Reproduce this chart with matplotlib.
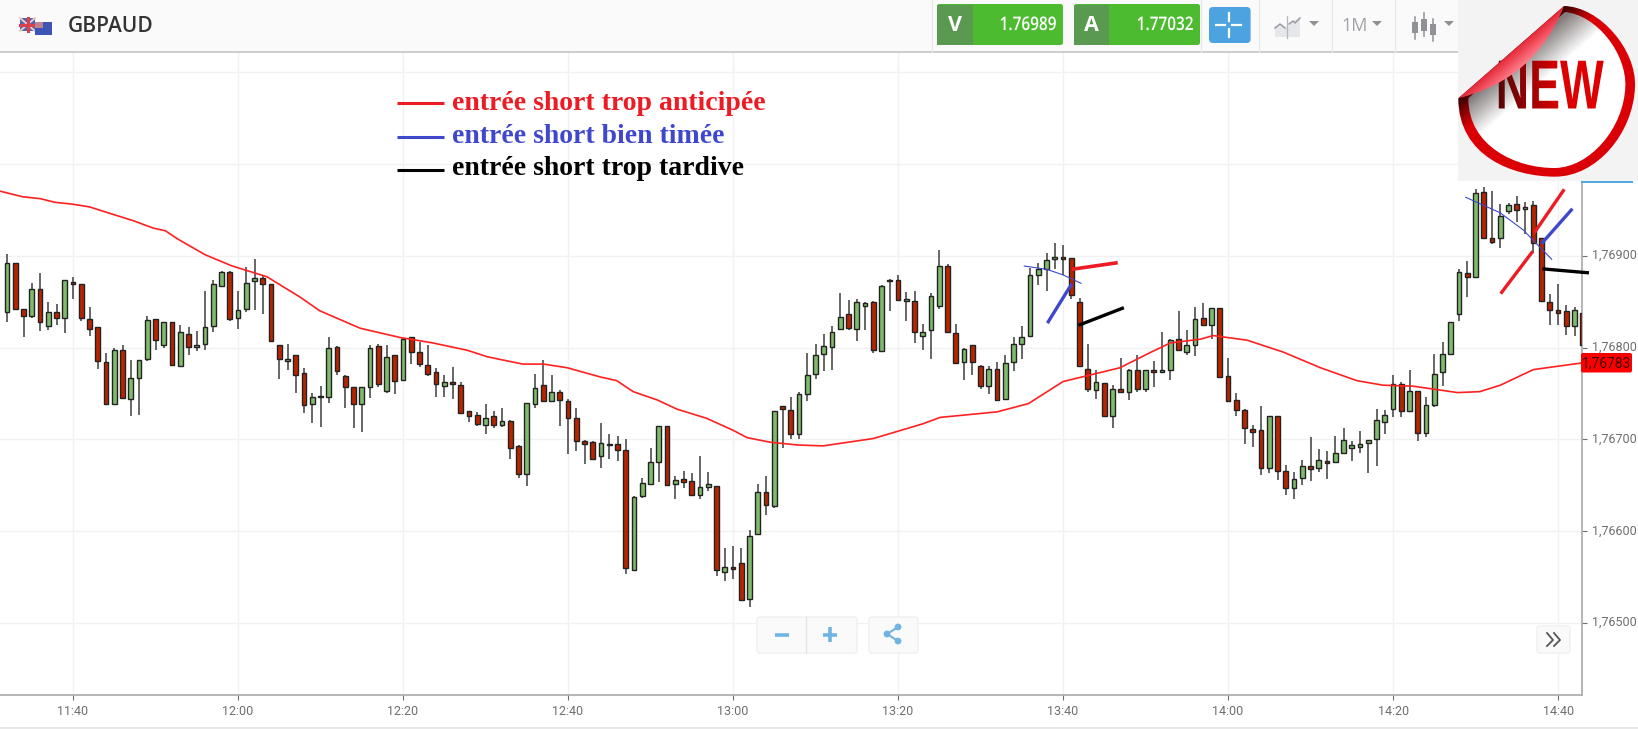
"""GBPAUD 1 minute candles with moving average and hand drawn short entry marks."""
import matplotlib
matplotlib.use("Agg")
import matplotlib.patheffects as pe
import matplotlib.pyplot as plt
import numpy as np
import pandas as pd
from matplotlib.patches import FancyBboxPatch, PathPatch, Polygon, Rectangle, Circle
from matplotlib.path import Path
from matplotlib.transforms import Affine2D, Bbox, ScaledTranslation

W, H = 1638, 729

# prices are in 1e-5 units, first candle is 11:32, one candle per minute
START_MINUTE = 692
opens = [
    176839, 176892, 176842, 176834, 176864, 176823, 176839, 176832, 176871, 176869,
    176831, 176822, 176784, 176739, 176797, 176744, 176767, 176788, 176831, 176803,
    176828, 176780, 176815, 176801, 176804, 176823, 176867, 176882, 176832, 176842,
    176872, 176876, 176869, 176803, 176785, 176792, 176772, 176739, 176746, 176746,
    176801, 176769, 176757, 176739, 176757, 176802, 176753, 176792, 176765, 176811,
    176795, 176781, 176773, 176758, 176763, 176759, 176731, 176727, 176716, 176725,
    176716, 176720, 176693, 176662, 176739, 176759, 176742, 176752, 176742, 176723,
    176698, 176697, 176682, 176694, 176695, 176688, 176558, 176638, 176652, 176675,
    176715, 176652, 176657, 176655, 176640, 176648, 176649, 176556, 176561, 176566,
    176526, 176597, 176643, 176628, 176736, 176732, 176706, 176749, 176771, 176793,
    176801, 176820, 176836, 176820, 176845, 176850, 176796, 176874, 176873, 176851,
    176851, 176813, 176819, 176845, 176889, 176816, 176784, 176803, 176780, 176758,
    176777, 176744, 176784, 176804, 176813, 176879, 176885, 176896, 176899, 176897,
    176849, 176777, 176754, 176761, 176725, 176755, 176752, 176776, 176755, 176776,
    176773, 176776, 176809, 176795, 176803, 176832, 176825, 176843, 176769, 176743,
    176732, 176711, 176710, 176669, 176726, 176666, 176647, 176658, 176671, 176669,
    176677, 176675, 176685, 176691, 176692, 176696, 176700, 176719, 176733, 176760,
    176731, 176753, 176707, 176738, 176773, 176793, 176837, 176881, 176877, 176969,
    176919, 176919, 176948, 176956, 176951, 176955, 176919, 176849, 176841, 176840,
    176823, 176838,
]
highs = [
    176902, 176892, 176842, 176870, 176881, 176849, 176847, 176874, 176877, 176869,
    176844, 176822, 176794, 176799, 176803, 176786, 176786, 176834, 176831, 176828,
    176828, 176825, 176822, 176818, 176862, 176874, 176883, 176883, 176861, 176888,
    176896, 176878, 176869, 176803, 176804, 176792, 176778, 176751, 176758, 176812,
    176802, 176770, 176757, 176757, 176803, 176804, 176803, 176792, 176810, 176811,
    176806, 176803, 176778, 176770, 176779, 176763, 176731, 176730, 176739, 176731,
    176734, 176721, 176694, 176740, 176771, 176786, 176770, 176754, 176744, 176734,
    176699, 176698, 176718, 176706, 176704, 176700, 176638, 176658, 176691, 176715,
    176715, 176660, 176666, 176663, 176682, 176665, 176649, 176582, 176584, 176582,
    176601, 176652, 176660, 176731, 176736, 176746, 176752, 176794, 176804, 176815,
    176823, 176859, 176852, 176853, 176849, 176851, 176868, 176875, 176879, 176860,
    176861, 176826, 176859, 176906, 176891, 176826, 176800, 176803, 176781, 176780,
    176784, 176792, 176811, 176823, 176887, 176892, 176903, 176914, 176911, 176897,
    176854, 176804, 176776, 176761, 176759, 176789, 176777, 176792, 176776, 176785,
    176817, 176809, 176840, 176819, 176844, 176848, 176843, 176843, 176789, 176751,
    176733, 176716, 176736, 176726, 176726, 176672, 176665, 176678, 176703, 176690,
    176687, 176704, 176713, 176698, 176709, 176699, 176733, 176732, 176770, 176763,
    176776, 176753, 176746, 176793, 176806, 176828, 176885, 176894, 176972, 176975,
    176970, 176956, 176957, 176965, 176958, 176959, 176919, 176858, 176869, 176846,
    176844, 176838,
]
lows = [
    176828, 176841, 176811, 176832, 176818, 176819, 176824, 176816, 176853, 176829,
    176813, 176777, 176739, 176739, 176745, 176726, 176727, 176785, 176797, 176799,
    176780, 176780, 176792, 176796, 176797, 176817, 176866, 176829, 176820, 176839,
    176841, 176836, 176806, 176766, 176776, 176750, 176729, 176718, 176714, 176740,
    176770, 176734, 176712, 176708, 176745, 176757, 176751, 176749, 176764, 176782,
    176779, 176769, 176746, 176746, 176744, 176729, 176719, 176715, 176706, 176712,
    176714, 176679, 176658, 176649, 176734, 176741, 176742, 176715, 176684, 176687,
    176673, 176679, 176669, 176679, 176677, 176554, 176558, 176636, 176651, 176654,
    176650, 176635, 176647, 176640, 176635, 176644, 176552, 176546, 176548, 176525,
    176518, 176596, 176618, 176625, 176691, 176701, 176700, 176742, 176766, 176775,
    176776, 176820, 176819, 176807, 176819, 176794, 176796, 176840, 176852, 176829,
    176805, 176797, 176788, 176842, 176817, 176782, 176765, 176770, 176755, 176749,
    176742, 176744, 176775, 176788, 176812, 176868, 176862, 176885, 176879, 176853,
    176780, 176752, 176744, 176725, 176713, 176752, 176743, 176752, 176752, 176757,
    176773, 176765, 176796, 176792, 176791, 176825, 176809, 176768, 176741, 176726,
    176695, 176692, 176661, 176663, 176656, 176640, 176635, 176650, 176655, 176665,
    176657, 176675, 176685, 176677, 176685, 176664, 176671, 176706, 176724, 176724,
    176730, 176698, 176703, 176735, 176758, 176793, 176829, 176855, 176877, 176918,
    176913, 176908, 176945, 176937, 176924, 176903, 176849, 176824, 176824, 176814,
    176813, 176803,
]
closes = [
    176892, 176842, 176834, 176864, 176828, 176839, 176832, 176874, 176869, 176832,
    176820, 176785, 176739, 176797, 176745, 176767, 176786, 176830, 176808, 176828,
    176781, 176817, 176801, 176803, 176822, 176869, 176882, 176831, 176841, 176870,
    176876, 176869, 176807, 176788, 176787, 176770, 176738, 176746, 176747, 176800,
    176775, 176757, 176739, 176757, 176799, 176760, 176790, 176764, 176809, 176795,
    176782, 176771, 176760, 176762, 176760, 176729, 176726, 176717, 176723, 176716,
    176720, 176691, 176662, 176740, 176756, 176742, 176752, 176743, 176723, 176698,
    176695, 176679, 176696, 176695, 176689, 176560, 176637, 176653, 176675, 176715,
    176650, 176656, 176654, 176640, 176648, 176651, 176558, 176561, 176559, 176525,
    176595, 176643, 176629, 176731, 176733, 176706, 176749, 176770, 176792, 176802,
    176817, 176833, 176821, 176850, 176848, 176797, 176867, 176872, 176852, 176853,
    176817, 176817, 176856, 176889, 176817, 176783, 176798, 176784, 176758, 176777,
    176743, 176783, 176804, 176811, 176879, 176885, 176895, 176899, 176896, 176857,
    176780, 176755, 176762, 176725, 176755, 176752, 176776, 176755, 176776, 176773,
    176776, 176808, 176797, 176803, 176831, 176825, 176843, 176768, 176742, 176732,
    176712, 176708, 176669, 176726, 176666, 176647, 176657, 176671, 176668, 176678,
    176674, 176685, 176699, 176694, 176695, 176699, 176721, 176727, 176760, 176731,
    176753, 176707, 176738, 176771, 176793, 176828, 176882, 176877, 176968, 176919,
    176915, 176943, 176955, 176950, 176953, 176914, 176851, 176841, 176838, 176823,
    176841, 176803,
]

# moving average
ma_minutes = [
    691.2, 693.9, 696.0, 697.8, 699.9, 702.0, 704.8, 707.3, 709.7, 711.2, 712.7, 716.0,
    719.2, 723.5, 727.5, 729.9, 734.8, 739.6, 743.6, 747.8, 750.2, 754.5, 757.0, 759.9,
    763.9, 765.9, 767.9, 770.8, 773.2, 776.8, 780.0, 781.7, 784.5, 787.8, 790.9, 797.0,
    803.0, 805.1, 812.0, 815.8, 820.0, 826.9, 830.9, 833.0, 836.6, 838.2, 842.3, 846.7,
    851.2, 855.6, 858.8, 862.4, 867.8, 870.5, 873.0, 877.0, 882.7,
]
ma_values = [
    176970, 176964, 176962, 176958, 176956, 176953, 176945, 176938, 176930, 176927, 176918, 176901,
    176889, 176877, 176855, 176840, 176821, 176811, 176805, 176797, 176790, 176782, 176782, 176778,
    176768, 176764, 176752, 176743, 176733, 176723, 176710, 176702, 176697, 176694, 176693, 176701,
    176717, 176724, 176730, 176739, 176763, 176778, 176796, 176805, 176809, 176813, 176808, 176795,
    176778, 176764, 176759, 176758, 176751, 176752, 176759, 176776, 176783,
]

price_ticks = [1.765, 1.766, 1.767, 1.768, 1.769]
upper_grid = [1.770, 1.771]
time_ticks = [700, 720, 740, 760, 780, 800, 820, 840, 860, 880]
last_price = 1.76783
bid, ask = "1.76989", "1.77032"

legend_labels = ["entrée short trop anticipée", "entrée short bien timée", "entrée short trop tardive"]
legend_colors = ["#ed1c24", "#3f48cc", "#000000"]

RED, BLUE, BLACK = legend_colors
GRID = "#f1f1f1"
AXIS = "#a9a9a9"
TICK = "#6f6f6f"


class Squeeze(pe.AbstractPathEffect):
    """Narrows text about its centre, there is no condensed face installed."""

    def __init__(self, factor, left_color=None, right_color=None):
        super().__init__()
        self.factor = factor
        self.left_color = left_color
        self.right_color = right_color

    def draw_path(self, renderer, gc, tpath, affine, rgbFace=None):
        box = tpath.get_extents(affine)
        cx = (box.x0 + box.x1) / 2
        squeezed = affine + Affine2D().translate(-cx, 0).scale(self.factor, 1).translate(cx, 0)
        if self.left_color is None:
            renderer.draw_path(gc, tpath, squeezed, rgbFace)
            return
        # vertical strips give the dark to red fade across the word
        box = tpath.get_extents(squeezed)
        edges = np.linspace(box.x0 - 1, box.x1 + 1, 28)
        for i in range(len(edges) - 1):
            t = min(1.0, 1.7 * i / (len(edges) - 2))
            color = tuple(np.array(self.left_color) * (1 - t) + np.array(self.right_color) * t)
            strip = renderer.new_gc()
            strip.copy_properties(gc)
            strip.set_clip_rectangle(Bbox([[edges[i], box.y0 - 2], [edges[i + 1], box.y1 + 2]]))
            renderer.draw_path(strip, tpath, squeezed, color)
            strip.restore()


def px_box(left, top, right, bottom):
    return [left / W, 1 - bottom / H, (right - left) / W, (bottom - top) / H]


def fmt_price(v):
    return f"{v:.5f}".replace(".", ",")


def button(ui, left, top, right, bottom, color, radius=2.5, edge="none", z=3):
    patch = FancyBboxPatch((left + radius, top + radius), right - left - 2 * radius, bottom - top - 2 * radius,
                           boxstyle=f"round,pad={radius},rounding_size={radius}",
                           fc=color, ec=edge, lw=0.8, zorder=z)
    ui.add_patch(patch)
    return patch


def draw_chart(fig):
    df = pd.DataFrame({"open": opens, "high": highs, "low": lows, "close": closes}) / 1e5
    df["minute"] = START_MINUTE + np.arange(len(df))
    up = df["close"] >= df["open"]

    ax = fig.add_axes(px_box(0, 52, 1582, 695))
    ax.set_xlim(691.15, 882.9)
    ax.set_ylim(1.76422, 1.771215)

    ax.vlines(df["minute"], df["low"], df["high"], color="#5a5a5a", lw=1.3, zorder=2)
    for mask, color in ((up, "#7fbb6c"), (~up, "#b92400")):
        part = df[mask]
        height = (part["close"] - part["open"]).abs().clip(lower=0.00001)
        ax.bar(part["minute"], height, bottom=part[["open", "close"]].min(axis=1), width=0.58,
               color=color, edgecolor="#222222", linewidth=1.0, zorder=3)

    ax.plot(np.array(ma_minutes), np.array(ma_values) / 1e5, color="#ff2020", lw=1.2, zorder=4)

    ax.set_yticks(price_ticks)
    ax.set_yticklabels([fmt_price(v) for v in price_ticks])
    ax.set_yticks(upper_grid, minor=True)
    ax.set_xticks(time_ticks)
    ax.set_xticklabels([f"{t // 60}:{t % 60:02d}" for t in time_ticks])
    ax.yaxis.tick_right()
    ax.grid(True, which="both", color=GRID, lw=1.0, zorder=0)
    ax.set_axisbelow(True)
    ax.tick_params(axis="y", which="major", length=3.5, width=0.8, color=TICK, labelcolor=TICK, labelsize=9, pad=3.5)
    ax.tick_params(axis="y", which="minor", length=0)
    ax.tick_params(axis="x", length=3.5, width=0.8, color=TICK, labelcolor=TICK, labelsize=9, pad=3.5)
    for label in ax.get_xticklabels():
        label.set_family("Roboto")
    lift = ScaledTranslation(0, 1.5 / 72, fig.dpi_scale_trans)
    for label in ax.get_yticklabels():
        label.set_family("Roboto")
        label.set_transform(label.get_transform() + lift)
    for side in ("top", "left"):
        ax.spines[side].set_visible(False)
    ax.spines["right"].set_color(AXIS)
    ax.spines["bottom"].set_color(AXIS)
    ax.spines["right"].set_linewidth(1.2)
    ax.spines["bottom"].set_linewidth(1.2)
    ax.spines["right"].set_bounds(1.76422, 1.76981)
    return ax


def draw_toolbar(ui):
    ui.add_patch(Rectangle((0, 0), W, 52, fc="#fafafa", ec="none", zorder=1))
    ui.plot([0, W], [52, 52], color="#c9c9c9", lw=1.3, zorder=2)
    for x in (931.5, 1201, 1258.6, 1331.5, 1394.6):
        ui.plot([x, x], [0, 52], color="#e8e8e8", lw=0.9, zorder=2)

    # flags
    ui.add_patch(Rectangle((20, 18), 15, 13, fc="#5566a8", ec="none", zorder=3))
    ui.plot([20, 35], [18, 31], color="#e8c8d0", lw=1.4, zorder=3)
    ui.plot([20, 35], [31, 18], color="#e8c8d0", lw=1.4, zorder=3)
    ui.plot([20, 35], [24.5, 24.5], color="#d8404f", lw=2.2, zorder=3)
    ui.plot([27.5, 27.5], [18, 31], color="#d8404f", lw=2.2, zorder=3)
    ui.add_patch(Rectangle((35, 22), 17, 13, fc="#3f55b5", ec="none", zorder=3))
    ui.add_patch(Rectangle((35, 22), 8, 6, fc="#c08090", ec="none", zorder=3))
    ui.text(68, 26, "GBPAUD", fontsize=15, family="Open Sans", fontweight="semibold", color="#333333",
            va="center", ha="left", zorder=4)

    for left, split, right, letter, value in ((937, 973, 1063, "V", bid), (1074, 1109, 1200, "A", ask)):
        button(ui, left, 4, right, 45, "#4dbb30")
        ui.add_patch(Rectangle((left, 4.5), split - left, 40, fc="#5a9a50", ec="none", zorder=3.1))
        ui.text((left + split) / 2, 25, letter, color="white", fontsize=15.5, fontweight="bold", family="Open Sans",
                ha="center", va="center", zorder=4)
        ui.text(right - 35, 25, value, color="white", fontsize=13.5, family="Open Sans", fontweight="semibold",
                ha="center", va="center", zorder=4, path_effects=[Squeeze(0.82)])

    button(ui, 1209, 7, 1250.6, 43, "#4da3df", radius=4)
    for xs, ys in (([1216, 1225], [25, 25]), ([1232, 1241], [25, 25]), ([1228.5, 1228.5], [13, 21]), ([1228.5, 1228.5], [29, 37])):
        ui.plot(xs, ys, color="white", lw=1.6, zorder=4)

    # chart type icon
    ui.add_patch(Polygon([(1275, 37), (1275, 28), (1280, 24), (1286, 28), (1293, 21), (1300, 17), (1300, 37)],
                         fc="#e6e7ea", ec="none", zorder=3))
    ui.plot([1275, 1280, 1285], [28, 24, 28], color="#9a9ca3", lw=1.1, zorder=4)
    ui.plot([1289, 1293, 1295, 1300], [24, 21, 23, 18], color="#9a9ca3", lw=1.1, zorder=4)
    ui.plot([1287, 1287], [16, 38], color="#b5b7bb", lw=0.9, zorder=4)
    ui.text(1355, 26, "1M", fontsize=13, family="Open Sans", color="#a0a2a7", ha="center", va="center", zorder=4)
    for x in (1314, 1377, 1449):
        ui.add_patch(Polygon([(x - 5, 21), (x + 5, 21), (x, 26)], fc="#8f9196", ec="none", zorder=4))
    for x, top, body_top, body_bottom, bottom in ((1415, 17, 22, 33, 39), (1424, 13, 19, 31, 36), (1433, 19, 24, 35, 41)):
        ui.plot([x, x], [top, bottom], color="#8f9196", lw=1.1, zorder=4)
        ui.add_patch(Rectangle((x - 2.7, body_top), 5.4, body_bottom - body_top, fc="#8f9196", ec="none", zorder=4))


def distance_field():
    # signed distance from the fold of the sticker, in pixels
    xs, ys = np.meshgrid(np.linspace(1458, 1638, 180), np.linspace(0, 181, 181))
    ax_, ay_, bx_, by_ = 1458.3, 98.3, 1564.0, 6.0
    length = np.hypot(bx_ - ax_, by_ - ay_)
    return ((bx_ - ax_) * (ys - ay_) - (by_ - ay_) * (xs - ax_)) / length


def sticker_path(points):
    (start, c1, c2, p1, c3, c4, p2, c5, c6, p3) = points
    verts = [start, c1, c2, p1, c3, c4, p2, c5, c6, p3, start]
    codes = [Path.MOVETO] + [Path.CURVE4] * 9 + [Path.LINETO]
    verts = [(1440 + x / 3, y / 3) for x, y in verts]
    return Path(verts, codes)


def draw_sticker(ui):
    ui.add_patch(Rectangle((1458, 0), 180, 181, fc="#f3f3f3", ec="none", zorder=5))
    field = distance_field()
    extent = (1458, 1638, 181, 0)

    outer = sticker_path([(372, 18), (480, 20), (590, 150), (585, 260), (580, 400), (470, 530), (345, 530),
                          (220, 530), (55, 470), (55, 295)])
    inner = sticker_path([(375, 36), (470, 45), (560, 160), (556, 260), (551, 385), (450, 502), (345, 504),
                          (230, 505), (85, 440), (85, 295)])

    t = np.clip(field / 28, 0, 1)[..., None]
    ring = np.array([0.2, 0.0, 0.0]) * (1 - t) + np.array([0.86, 0.0, 0.02]) * t
    im = ui.imshow(ring, extent=extent, aspect="auto", zorder=6, interpolation="bilinear")
    im.set_clip_path(PathPatch(outer, transform=ui.transData))

    t = np.clip((field - 8) / 34, 0, 1)[..., None]
    shade = np.array([0.52, 0.49, 0.49]) * (1 - t) + np.array([1.0, 1.0, 1.0]) * t
    im = ui.imshow(shade, extent=extent, aspect="auto", zorder=7, interpolation="bilinear")
    im.set_clip_path(PathPatch(inner, transform=ui.transData))

    peel_pts = [(372, 18), (55, 295), (170, 265), (300, 200), (372, 18)]
    peel = Path([(1440 + x / 3, y / 3) for x, y in peel_pts],
                [Path.MOVETO, Path.LINETO, Path.CURVE4, Path.CURVE4, Path.CURVE4])
    t = np.clip(field / 18, 0, 1)[..., None]
    peel_rgb = np.array([0.90, 0.16, 0.22]) * (1 - t) + np.array([1.0, 0.5, 0.55]) * t
    im = ui.imshow(peel_rgb, extent=extent, aspect="auto", zorder=9, interpolation="bilinear")
    im.set_clip_path(PathPatch(peel, transform=ui.transData))

    ui.text(1549, 90.5, "NEW", fontsize=50, fontweight="bold", color="#d80000", zorder=8,
            family="Liberation Sans", ha="center", va="center",
            path_effects=[Squeeze(0.667, (0.35, 0.02, 0.02), (0.87, 0.0, 0.0))])
    ui.set_xlim(0, W)
    ui.set_ylim(H, 0)


def draw_notes(ui):
    # hand drawn marks, screen positions on the chart
    ui.plot([1071.7, 1117.7], [269.3, 262.7], color=RED, lw=2.6, zorder=4, solid_capstyle="butt")
    ui.plot([1048.3, 1071], [321.7, 285], color=BLUE, lw=2.4, zorder=4)
    ui.plot([1080, 1122.3], [324.7, 308.3], color=BLACK, lw=2.4, zorder=4)
    ui.plot([1024.3, 1046.7, 1063.3, 1081], [266, 269.3, 275, 283.3], color=BLUE, lw=0.8, zorder=4)
    ui.plot([1501.7, 1531.7], [292.3, 252.7], color=RED, lw=2.4, zorder=4)
    ui.plot([1535, 1563.3], [231.7, 190.7], color=RED, lw=2.4, zorder=4)
    ui.plot([1542.7, 1571.3], [242.3, 210], color=BLUE, lw=2.4, zorder=4)
    ui.plot([1544, 1567.3, 1587.3], [269, 271, 272.7], color=BLACK, lw=2.4, zorder=4)
    ui.plot([1465.7, 1500, 1523.3, 1551.7], [197.3, 212.7, 230, 259.3], color=BLUE, lw=0.8, zorder=4)

    # legend
    for y, base, label, color in zip((103, 137, 170), (103.5, 136, 168.5), legend_labels, legend_colors):
        ui.plot([397, 444], [y, y], color=color, lw=2.2, zorder=4, solid_capstyle="butt")
        ui.text(451.5, base, label, color=color, fontsize=20, fontweight="bold", family="Liberation Serif",
                ha="left", va="center", zorder=4)

    # last price tag and ask marker
    ui.plot([1582, 1631.5], [181.7, 181.7], color="#4fa8dc", lw=1.4, zorder=4)
    button(ui, 1581, 353, 1632, 372.5, "#fb0000", radius=2)
    ui.text(1606.5, 362.8, fmt_price(last_price), color="#4a0000", fontsize=10, family="Roboto",
            ha="center", va="center", zorder=4)


def draw_buttons(ui):
    for left, top, right, bottom in ((757, 617, 857, 653), (869, 617, 918, 653), (1537, 626, 1570, 653)):
        button(ui, left, top, right, bottom, "#fafafa", radius=2.5, edge="#ececec", z=3)
    ui.plot([806, 806], [617, 653], color="#e2e2e2", lw=0.9, zorder=4)
    icon = "#6fb4e3"
    ui.plot([775, 789], [634.5, 634.5], color=icon, lw=2.6, zorder=4, solid_capstyle="butt")
    ui.plot([823, 837], [634.5, 634.5], color=icon, lw=2.6, zorder=4, solid_capstyle="butt")
    ui.plot([830, 830], [627, 642], color=icon, lw=2.6, zorder=4, solid_capstyle="butt")
    ui.plot([898, 887, 898], [627, 634, 641], color=icon, lw=1.5, zorder=4)
    for x, y in ((898, 627), (887, 634), (898, 641)):
        ui.add_patch(Circle((x, y), 3.4, fc=icon, ec="none", zorder=4))
    for offset in (0, 7):
        ui.plot([1547 + offset, 1553 + offset, 1547 + offset], [633, 640, 646], color="#555555", lw=1.3, zorder=4)
    ui.plot([0, W], [727.5, 727.5], color="#e4e4e4", lw=1.2, zorder=2)


fig = plt.figure(figsize=(W / 100, H / 100), dpi=100, facecolor="white")
draw_chart(fig)

ui = fig.add_axes([0, 0, 1, 1], facecolor="none")
ui.set_axis_off()
draw_toolbar(ui)
draw_notes(ui)
draw_buttons(ui)
draw_sticker(ui)

fig.savefig("out.png", dpi=100, facecolor="white")
plt.close(fig)
